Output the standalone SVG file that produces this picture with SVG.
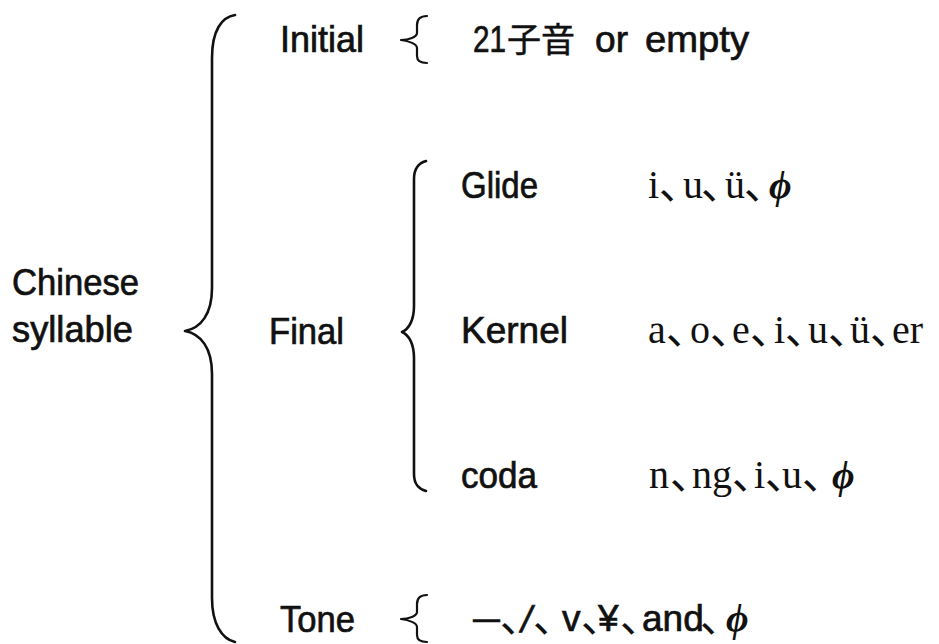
<svg xmlns="http://www.w3.org/2000/svg" width="939" height="644" viewBox="0 0 939 644">
  <style>
    .sans { font-family: "Liberation Sans", "Noto Sans CJK KR", sans-serif; font-size: 37px; fill: #111; stroke: #111; stroke-width: 0.7px; }
    .cjk { font-family: "Noto Sans CJK KR", sans-serif; font-size: 34px; fill: #111; stroke: #111; stroke-width: 0.5px; }
    .serif { font-family: "Liberation Serif", "Noto Sans CJK KR", serif; font-size: 40px; fill: #111; }
    .comma { font-family: "Noto Sans CJK KR", sans-serif; font-size: 42px; fill: #111; }
    .phi { font-family: "Liberation Serif", "DejaVu Serif", serif; font-style: italic; font-weight: bold; font-size: 39px; fill: #111; }
    .brace { fill: none; stroke: #111; stroke-linecap: round; stroke-linejoin: round; }
    .big { stroke-width: 2.6; }
    .small { stroke-width: 2.2; }
  </style>
  <defs>
    <!-- short curly brace for single-item branches -->
    <path id="smallBrace" d="M427,16 C421,16 417,19 417,25 L417,33 C417,37 409,40 401,40 C409,41 417,44 417,48 L417,56 C417,61 421,63 427,63"/>
  </defs>
  <rect width="939" height="644" fill="#fff"/>

  <g id="connectors">
    <!-- syllable brace -->
    <path class="brace big" d="M235,15 C222,17 212,30 212,58 L212,288 C212,314 201,328 185,331 C201,334 212,348 212,374 L212,598 C212,624 222,639 235,642"/>
    <!-- final brace -->
    <path class="brace big" d="M426,161 C419,163 414,168 414,179 L414,306 C414,320 409,329 402,332 C409,335 414,344 414,358 L414,474 C414,485 419,489 426,491"/>
    <use href="#smallBrace" class="brace small"/>
    <use href="#smallBrace" class="brace small" transform="translate(0,579)"/>
  </g>

  <g id="syllable">
    <text class="sans" x="12" y="295" textLength="127" lengthAdjust="spacingAndGlyphs">Chinese</text>
    <text class="sans" x="12" y="342" textLength="121" lengthAdjust="spacingAndGlyphs">syllable</text>
  </g>

  <g id="initial">
    <text class="sans" x="280" y="52" textLength="84" lengthAdjust="spacingAndGlyphs">Initial</text>
  </g>
  <g id="initial-values">
    <text class="sans" x="473" y="52" textLength="33" lengthAdjust="spacingAndGlyphs">21</text>
    <text class="cjk" x="507" y="52">子音</text>
    <text class="sans" x="595" y="52" textLength="33" lengthAdjust="spacingAndGlyphs">or</text>
    <text class="sans" x="645" y="52" textLength="104" lengthAdjust="spacingAndGlyphs">empty</text>
  </g>

  <g id="final">
    <text class="sans" x="269" y="344" textLength="75" lengthAdjust="spacingAndGlyphs">Final</text>
  </g>

  <g id="glide">
    <text class="sans" x="461" y="198" textLength="77" lengthAdjust="spacingAndGlyphs">Glide</text>
    <text class="serif" y="198"><tspan x="648">i</tspan><tspan x="683">u</tspan><tspan x="725">ü</tspan></text>
    <text class="comma" y="199"><tspan x="660">､</tspan><tspan x="702">､</tspan><tspan x="745">､</tspan></text>
    <text class="phi" x="769" y="198">ϕ</text>
  </g>

  <g id="kernel">
    <text class="sans" x="461" y="343" textLength="107" lengthAdjust="spacingAndGlyphs">Kernel</text>
    <text class="serif" y="343"><tspan x="648">a</tspan><tspan x="690">o</tspan><tspan x="732">e</tspan><tspan x="774">i</tspan><tspan x="808">u</tspan><tspan x="850">ü</tspan><tspan x="892">er</tspan></text>
    <text class="comma" y="344"><tspan x="667">､</tspan><tspan x="711">､</tspan><tspan x="751">､</tspan><tspan x="786">､</tspan><tspan x="829">､</tspan><tspan x="871">､</tspan></text>
  </g>

  <g id="coda">
    <text class="sans" x="461" y="488" textLength="76" lengthAdjust="spacingAndGlyphs">coda</text>
    <text class="serif" y="488"><tspan x="649">n</tspan><tspan x="692">ng</tspan><tspan x="754">i</tspan><tspan x="782">u</tspan></text>
    <text class="comma" y="489"><tspan x="671">､</tspan><tspan x="733">､</tspan><tspan x="766">､</tspan><tspan x="803">､</tspan></text>
    <text class="phi" x="832" y="488">ϕ</text>
  </g>

  <g id="tone">
    <text class="sans" x="280" y="632" textLength="75" lengthAdjust="spacingAndGlyphs">Tone</text>
  </g>
  <g id="tone-values">
    <text class="sans" x="473" y="630" textLength="27" lengthAdjust="spacingAndGlyphs">—</text>
    <!-- slash leaned a little further than the font draws it -->
    <text class="sans" x="0" y="0" transform="translate(519,632) skewX(-12)">/</text>
    <text class="sans" y="631"><tspan x="562">v</tspan><tspan x="598">¥</tspan><tspan x="642">and</tspan></text>
    <text class="comma" y="632"><tspan x="501">､</tspan><tspan x="534">､</tspan><tspan x="582">､</tspan><tspan x="621">､</tspan><tspan x="701">､</tspan></text>
    <text class="phi" x="726" y="631">ϕ</text>
  </g>
</svg>
